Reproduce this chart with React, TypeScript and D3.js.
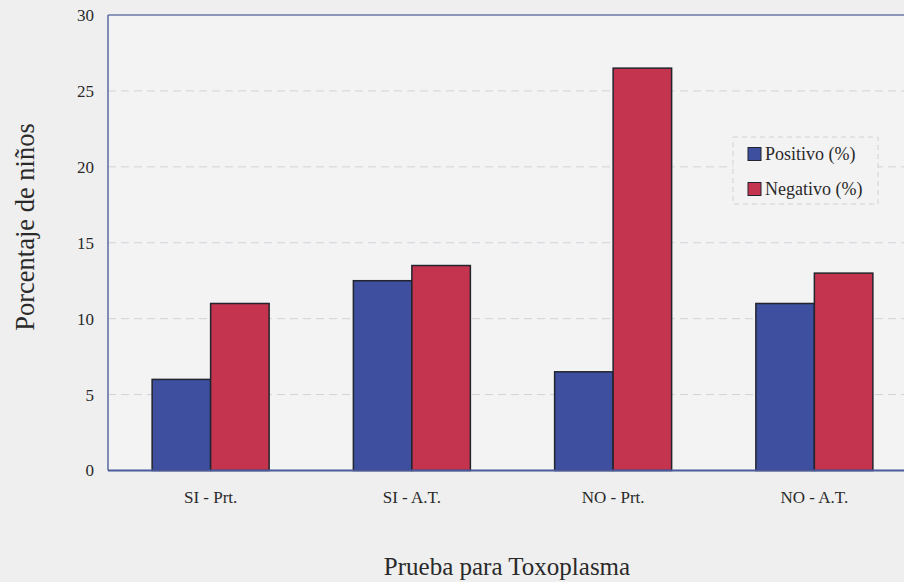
import React from "react";
import * as d3 from "d3";

const categories = ["SI - Prt.", "SI - A.T.", "NO - Prt.", "NO - A.T."];
const seriesNames = ["Positivo (%)", "Negativo (%)"];
const positivo = [6, 12.5, 6.5, 11];
const negativo = [11, 13.5, 26.5, 13];
const yTicks = [0, 5, 10, 15, 20, 25, 30];

const W = 904;
const H = 582;
const plotLeft = 108;
const plotTop = 15;
const plotBottom = 470.5;
const plotRight = 915;
const colors = ["#3d4f9e", "#c4344f"];
const textColor = "#2a2a2a";

export default function App() {
  const x = d3.scaleBand<string>().domain(categories).range([110, 915]).paddingInner(0).paddingOuter(0);
  const inner = d3.scaleBand<string>().domain(seriesNames).range([-58.5, 58.5]);
  const y = d3.scaleLinear().domain([0, 30]).range([plotBottom, plotTop]);
  const series = [positivo, negativo];

  return (
    <svg
      width={W}
      height={H}
      style={{ position: "absolute", left: 0, top: 0, display: "block" }}
      fontFamily="'Liberation Serif', 'Times New Roman', serif"
    >
      <rect x={0} y={0} width={W} height={H} fill="#efefef" />
      <rect x={plotLeft} y={plotTop} width={plotRight - plotLeft} height={plotBottom - plotTop} fill="#f3f3f3" />

      {/* horizontal gridlines */}
      {yTicks.filter((t) => t > 0 && t < 30).map((t) => (
        <line
          key={t}
          x1={plotLeft}
          x2={plotRight}
          y1={y(t)}
          y2={y(t)}
          stroke="#d2d2da"
          strokeWidth={1}
          strokeDasharray="8 5"
        />
      ))}

      {/* bars */}
      {series.map((vals, si) =>
        categories.map((c, ci) => {
          const cx = (x(c) as number) + x.bandwidth() / 2;
          const bx = cx + (inner(seriesNames[si]) as number);
          return (
            <rect
              key={`${si}-${ci}`}
              x={bx}
              y={y(vals[ci])}
              width={inner.bandwidth()}
              height={plotBottom - y(vals[ci])}
              fill={colors[si]}
              stroke="#22242e"
              strokeWidth={1.5}
            />
          );
        })
      )}

      {/* plot frame */}
      <line x1={plotLeft} x2={plotRight} y1={plotTop} y2={plotTop} stroke="#6a78a8" strokeWidth={1.5} />
      <line x1={plotLeft} x2={plotLeft} y1={plotTop} y2={plotBottom} stroke="#5a68a0" strokeWidth={1.5} />
      <line x1={plotLeft} x2={plotRight} y1={plotBottom} y2={plotBottom} stroke="#4a5a9c" strokeWidth={1.8} />

      {/* y tick labels */}
      {yTicks.map((t) => (
        <text
          key={t}
          x={94}
          y={y(t)}
          dy="0.35em"
          textAnchor="end"
          fontSize={17}
          fill={textColor}
        >
          {t}
        </text>
      ))}

      {/* category labels */}
      {categories.map((c) => (
        <text
          key={c}
          x={(x(c) as number) + x.bandwidth() / 2}
          y={503}
          textAnchor="middle"
          fontSize={17}
          fill={textColor}
        >
          {c}
        </text>
      ))}

      {/* axis titles */}
      <text x={507} y={575} textAnchor="middle" fontSize={25} fill={textColor}>
        Prueba para Toxoplasma
      </text>
      <text
        transform={`translate(34, 227) rotate(-90)`}
        textAnchor="middle"
        fontSize={26.5}
        fill={textColor}
      >
        Porcentaje de niños
      </text>

      {/* legend */}
      <g>
        <rect x={733} y={137} width={145} height={67} fill="#f3f3f3" stroke="#d2d2da" strokeDasharray="5 4" />
        {seriesNames.map((s, i) => (
          <g key={s} transform={`translate(748, ${154 + i * 35})`}>
            <rect x={0} y={-6.5} width={13} height={13} fill={colors[i]} stroke="#22242e" strokeWidth={1} />
            <text x={17} y={0} dy="0.35em" fontSize={18} fill={textColor}>
              {s}
            </text>
          </g>
        ))}
      </g>
    </svg>
  );
}
